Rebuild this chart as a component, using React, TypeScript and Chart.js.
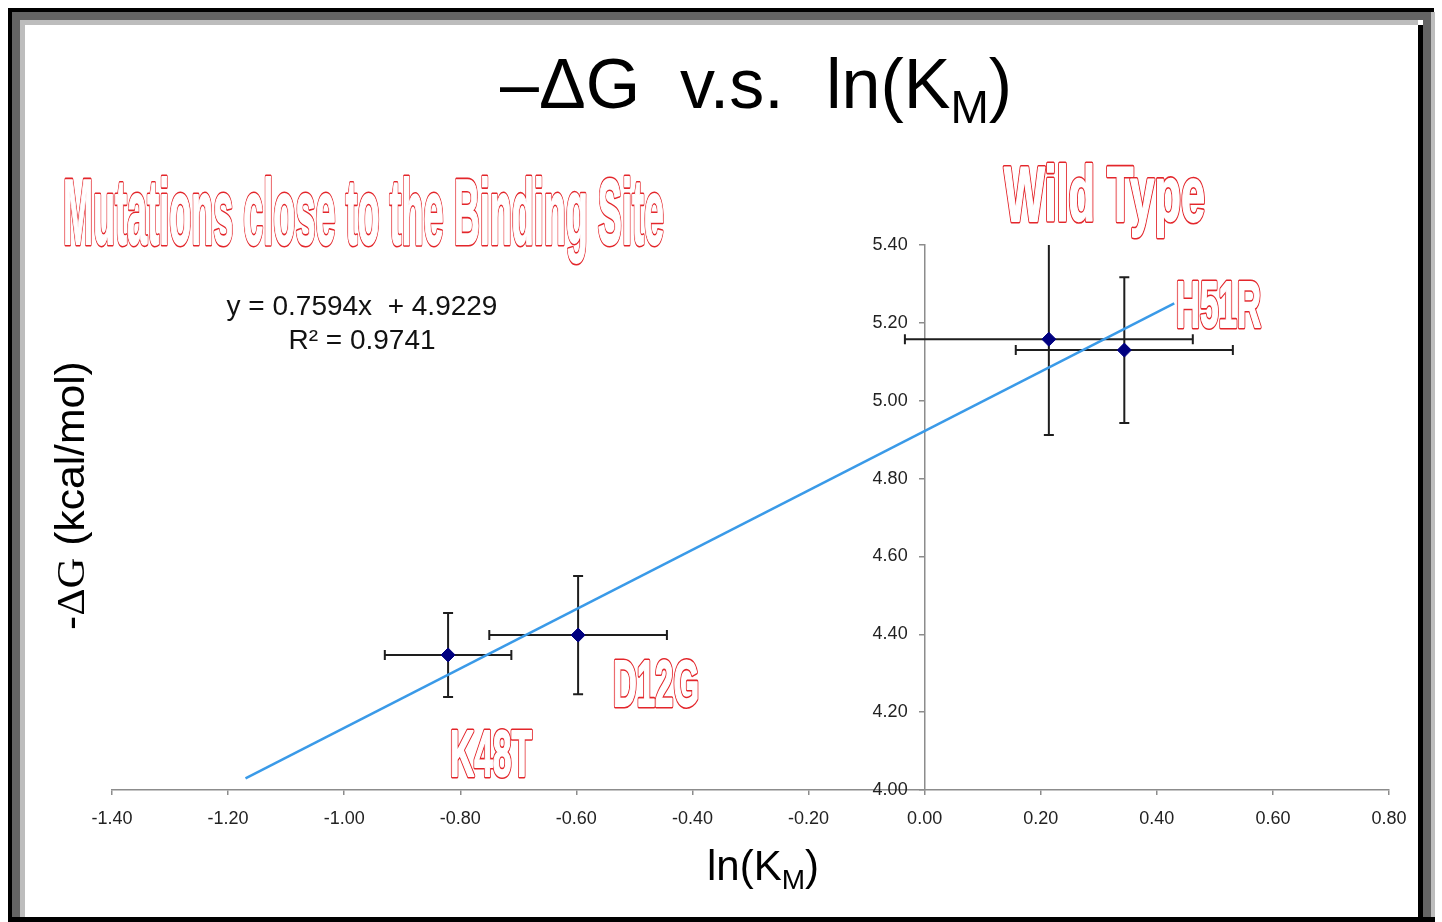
import React, { useEffect, useRef } from "react";
import { Chart, registerables } from "chart.js";

Chart.register(...registerables);

// ---- data ----
const mutants = ["K48T", "D12G", "Wild Type", "H51R"];
const lnKm = [-0.821, -0.597, 0.214, 0.344];
const negDG = [4.347, 4.398, 5.158, 5.13];
const lnKmErr = [0.109, 0.153, 0.248, 0.187];
const negDGErr = [0.108, 0.152, 0.246, 0.187];
const trendX = [-1.17, 0.43];
const trendY = [4.03, 5.25];
const xTickValues = [-1.4, -1.2, -1.0, -0.8, -0.6, -0.4, -0.2, 0.0, 0.2, 0.4, 0.6, 0.8];
const yTickValues = [4.0, 4.2, 4.4, 4.6, 4.8, 5.0, 5.2, 5.4];
const equationLines = ["y = 0.7594x  + 4.9229", "R\u00B2 = 0.9741"];

// ---- annotation placement (pixels) ----
const outlineLabels = [
  { text: "Mutations close to the Binding Site", left: 63, baseline: 244, width: 601, cap: 66 },
  { text: "Wild Type", left: 1004, baseline: 221, width: 201, cap: 56 },
  { text: "H51R", left: 1176, baseline: 327, width: 85, cap: 46 },
  { text: "D12G", left: 613, baseline: 706, width: 86, cap: 46 },
  { text: "K48T", left: 450, baseline: 776, width: 82, cap: 46 },
];

const SANS = '"Liberation Sans", Arial, Helvetica, sans-serif';
const SERIF = '"Liberation Serif", "Times New Roman", serif';

function outlineText(ctx: CanvasRenderingContext2D, l: any) {
  const size = l.cap / 0.716;
  ctx.save();
  ctx.font = `bold ${size}px "Liberation Sans Narrow", ${SANS}`;
  const w = ctx.measureText(l.text).width;
  ctx.translate(l.left, l.baseline);
  ctx.scale(l.width / w, 1);
  ctx.textBaseline = "alphabetic";
  ctx.textAlign = "left";
  ctx.lineJoin = "round";
  ctx.strokeStyle = "#e3262b";
  ctx.lineWidth = 5;
  ctx.strokeText(l.text, 0, 0);
  ctx.strokeStyle = "#ffffff";
  ctx.lineWidth = 1.8;
  ctx.strokeText(l.text, 0, 0);
  ctx.fillStyle = "#ffffff";
  ctx.fillText(l.text, 0, 0);
  ctx.restore();
}

function seg(ctx: CanvasRenderingContext2D, text: string, x: number, y: number, font: string) {
  ctx.font = font;
  ctx.fillText(text, x, y);
  return x + ctx.measureText(text).width;
}

const overlayPlugin = {
  id: "overlay",
  beforeDraw(chart: any) {
    // move the y tick labels to the left of the (centred) y axis ticks
    const s = chart.scales.y;
    const items = s.getLabelItems(chart.chartArea);
    for (const it of items) {
      if (!it.__shifted) {
        it.options.translation[0] -= 17;
        it.__shifted = true;
      }
    }
  },
  beforeDatasetsDraw(chart: any) {
    const { ctx, chartArea, scales } = chart;
    const xs = scales.x;
    const ys = scales.y;
    ctx.save();
    ctx.beginPath();
    ctx.rect(chartArea.left, chartArea.top, chartArea.right - chartArea.left, chartArea.bottom - chartArea.top);
    ctx.clip();
    ctx.strokeStyle = "#1e1e1e";
    ctx.lineWidth = 2;
    const cap = 5;
    for (let i = 0; i < lnKm.length; i++) {
      const px = xs.getPixelForValue(lnKm[i]);
      const py = ys.getPixelForValue(negDG[i]);
      const xl = xs.getPixelForValue(lnKm[i] - lnKmErr[i]);
      const xr = xs.getPixelForValue(lnKm[i] + lnKmErr[i]);
      const yt = ys.getPixelForValue(negDG[i] + negDGErr[i]);
      const yb = ys.getPixelForValue(negDG[i] - negDGErr[i]);
      ctx.beginPath();
      ctx.moveTo(xl, py); ctx.lineTo(xr, py);
      ctx.moveTo(xl, py - cap); ctx.lineTo(xl, py + cap);
      ctx.moveTo(xr, py - cap); ctx.lineTo(xr, py + cap);
      ctx.moveTo(px, yt); ctx.lineTo(px, yb);
      ctx.moveTo(px - cap, yt); ctx.lineTo(px + cap, yt);
      ctx.moveTo(px - cap, yb); ctx.lineTo(px + cap, yb);
      ctx.stroke();
    }
    ctx.restore();
  },
  afterDraw(chart: any) {
    const { ctx } = chart;
    ctx.save();
    ctx.fillStyle = "#000";
    ctx.textBaseline = "alphabetic";
    ctx.textAlign = "left";

    // Title: –ΔG  v.s.  ln(K_M)
    seg(ctx, "\u2013\u0394G", 500, 108, `70px ${SANS}`);
    seg(ctx, "v.s.", 680, 108, `70px ${SANS}`);
    let x = seg(ctx, "ln(K", 826, 108, `70px ${SANS}`);
    x = seg(ctx, "M", x, 123, `46px ${SANS}`);
    seg(ctx, ")", x, 108, `70px ${SANS}`);

    // x-axis title
    x = seg(ctx, "ln(K", 707, 880, `42px ${SANS}`);
    x = seg(ctx, "M", x, 889, `28px ${SANS}`);
    seg(ctx, ")", x, 880, `42px ${SANS}`);

    // y-axis title
    ctx.save();
    ctx.translate(84, 630);
    ctx.rotate(-Math.PI / 2);
    ctx.scale(1.065, 1);
    let yx = seg(ctx, "-", 0, 0, `40px ${SANS}`);
    yx = seg(ctx, "\u0394G", yx, 0, `40px ${SERIF}`);
    seg(ctx, " (kcal/mol)", yx, 0, `40px ${SANS}`);
    ctx.restore();

    // equation
    ctx.textAlign = "center";
    ctx.font = `28px ${SANS}`;
    ctx.fillStyle = "#111";
    ctx.fillText(equationLines[0], 362, 315);
    ctx.fillText(equationLines[1], 362, 349);
    ctx.restore();

    for (const l of outlineLabels) outlineText(ctx, l);
  },
};

export default function App() {
  const ref = useRef<HTMLCanvasElement>(null);

  useEffect(() => {
    if (!ref.current) return;
    const axisColor = "#8c8c8c";
    const tickFont = { family: SANS, size: 18 };
    const chart = new Chart(ref.current, {
      type: "scatter",
      data: {
        datasets: [
          {
            label: "-\u0394G",
            data: lnKm.map((v, i) => ({ x: v, y: negDG[i] })),
            pointStyle: "rectRot",
            pointRadius: 7,
            backgroundColor: "#000080",
            borderColor: "#000080",
            borderWidth: 1,
            showLine: false,
          },
          {
            label: "Linear fit",
            data: trendX.map((v, i) => ({ x: v, y: trendY[i] })),
            showLine: true,
            pointRadius: 0,
            borderColor: "#3a9ae8",
            borderWidth: 2.5,
            fill: false,
          },
        ],
      },
      options: {
        responsive: false,
        animation: false,
        devicePixelRatio: 1,
        layout: { padding: { left: 112, right: 53, top: 245, bottom: 92 } },
        plugins: {
          legend: { display: false },
          tooltip: { enabled: false },
          title: { display: false },
        },
        scales: {
          x: {
            type: "linear",
            position: "bottom",
            min: -1.4,
            max: 0.8,
            afterBuildTicks: (s: any) => {
              s.ticks = xTickValues.map((v) => ({ value: v }));
            },
            afterFit: (s: any) => {
              s.height = 40;
            },
            grid: { drawOnChartArea: false, drawTicks: true, tickLength: 5, color: axisColor, lineWidth: 1.5 },
            border: { display: true, color: axisColor, width: 1.5 },
            ticks: {
              padding: 13,
              color: "#222",
              font: tickFont,
              maxRotation: 0,
              autoSkip: false,
              callback: (v: any) => Number(v).toFixed(2),
            },
          },
          y: {
            type: "linear",
            position: { x: 0 } as any,
            min: 4,
            max: 5.4,
            afterBuildTicks: (s: any) => {
              s.ticks = yTickValues.map((v) => ({ value: v }));
            },
            afterFit: (s: any) => {
              s.width = 0;
            },
            grid: { drawOnChartArea: false, drawTicks: true, tickLength: 5, color: axisColor, lineWidth: 1.5 },
            border: { display: true, color: axisColor, width: 1.5 },
            ticks: {
              padding: 12,
              color: "#222",
              font: tickFont,
              autoSkip: false,
              callback: (v: any) => Number(v).toFixed(2),
            },
          },
        },
      },
      plugins: [overlayPlugin],
    } as any);
    return () => chart.destroy();
  }, []);

  const box = (left: number, top: number, width: number, height: number, bg: string) => (
    <div style={{ position: "absolute", left, top, width, height, background: bg }} />
  );

  return (
    <div style={{ position: "fixed", left: 0, top: 0, width: 1442, height: 922, background: "#fff", overflow: "hidden" }}>
      {box(8, 8, 1426, 4, "#000")}
      {box(8, 8, 4, 914, "#000")}
      {box(12, 12, 1419, 8, "#646464")}
      {box(12, 12, 8, 910, "#646464")}
      {box(20, 20, 1398, 5, "#bdbdbd")}
      {box(20, 20, 5, 902, "#bdbdbd")}
      {box(1418, 25, 5, 897, "#000")}
      {box(1423, 12, 8, 910, "#646464")}
      {box(1431, 12, 4, 910, "#bdbdbd")}
      {box(8, 917, 1427, 5, "#000")}
      <canvas
        ref={ref}
        width={1442}
        height={922}
        style={{ position: "absolute", left: 0, top: 0, width: 1442, height: 922 }}
      />
    </div>
  );
}
